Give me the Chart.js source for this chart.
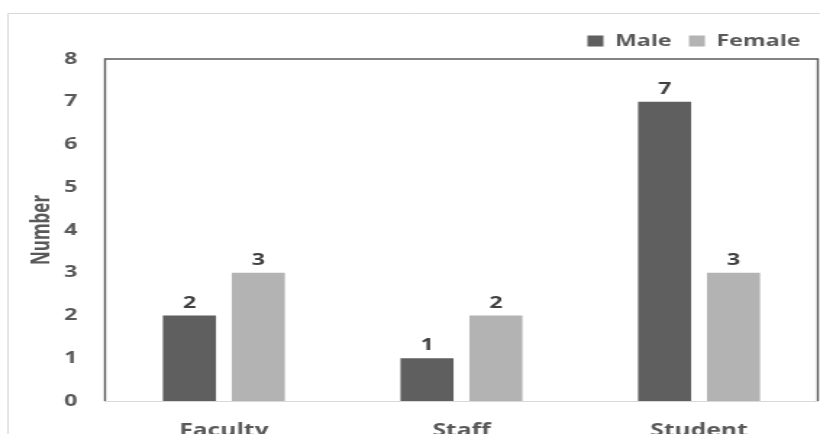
<!DOCTYPE html>
<html>
<head>
<meta charset="utf-8">
<script src="https://cdn.jsdelivr.net/npm/chart.js@4/dist/chart.umd.min.js"></script>
<style>
  html, body { margin: 0; padding: 0; background: #ffffff; overflow: hidden; }
  /* the figure is laid out on a narrower canvas and widened to 820px */
  #wrap { width: 566px; height: 434px; transform: scaleX(1.4488); transform-origin: 0 0; }
</style>
</head>
<body>
<div id="wrap"><canvas id="c" width="566" height="434"></canvas></div>
<script>
// Head count by role and gender
const categories = ['Faculty', 'Staff', 'Student'];
const maleCounts = [2, 1, 7];
const femaleCounts = [3, 2, 3];
const yTicks = [0, 1, 2, 3, 4, 5, 6, 7, 8];
const yTitle = 'Number';

const TEXT = '#595959';
const LABEL = '#404040';
const FONT = '"Open Sans", "DejaVu Sans", sans-serif';

// Light outer frame around the figure, dark plot box and the axis title
const framePlugin = {
  id: 'frame',
  beforeDraw(chart) {
    const ctx = chart.ctx;
    ctx.save();
    ctx.fillStyle = '#ffffff';
    ctx.fillRect(0, 0, chart.width, chart.height);
    ctx.strokeStyle = '#d9d9d9';
    ctx.lineWidth = 1;
    ctx.beginPath();
    ctx.moveTo(5.5, chart.height);
    ctx.lineTo(5.5, 13.5);
    ctx.lineTo(chart.width, 13.5);
    ctx.stroke();

    const a = chart.chartArea;
    ctx.translate(29, (a.top + a.bottom) / 2);
    ctx.rotate(-Math.PI / 2);
    ctx.font = 'bold 17px ' + FONT;
    ctx.fillStyle = TEXT;
    ctx.textAlign = 'center';
    ctx.textBaseline = 'middle';
    ctx.fillText(yTitle, 0, 0);
    ctx.restore();
  },
  afterDatasetsDraw(chart) {
    const a = chart.chartArea;
    const ctx = chart.ctx;
    ctx.save();
    ctx.strokeStyle = '#595959';
    ctx.lineWidth = 1.4;
    ctx.beginPath();
    ctx.moveTo(a.left, a.bottom);
    ctx.lineTo(a.left, a.top);
    ctx.lineTo(a.right, a.top);
    ctx.lineTo(a.right, a.bottom);
    ctx.stroke();
    ctx.restore();
  }
};

// Value printed above each bar
const valueLabels = {
  id: 'valueLabels',
  afterDatasetsDraw(chart) {
    const ctx = chart.ctx;
    ctx.save();
    ctx.font = 'bold 16px ' + FONT;
    ctx.fillStyle = LABEL;
    ctx.textAlign = 'center';
    ctx.textBaseline = 'alphabetic';
    chart.data.datasets.forEach((ds, i) => {
      chart.getDatasetMeta(i).data.forEach((bar, j) => {
        ctx.fillText(String(ds.data[j]), bar.x, bar.y - 8);
      });
    });
    ctx.restore();
  }
};

new Chart(document.getElementById('c'), {
  type: 'bar',
  data: {
    labels: categories,
    datasets: [
      { label: 'Male', data: maleCounts, backgroundColor: '#5f5f5f', borderWidth: 0 },
      { label: 'Female', data: femaleCounts, backgroundColor: '#b3b3b3', borderWidth: 0 }
    ]
  },
  options: {
    responsive: false,
    animation: false,
    devicePixelRatio: 1,
    datasets: { bar: { categoryPercentage: 0.58, barPercentage: 0.77 } },
    layout: { padding: { top: 21, right: 1.5, left: 0, bottom: 0 } },
    plugins: {
      legend: {
        position: 'top',
        align: 'end',
        labels: {
          color: TEXT,
          font: { family: FONT, size: 16, weight: 'bold' },
          boxWidth: 11,
          boxHeight: 11,
          padding: 12
        }
      },
      tooltip: { enabled: false }
    },
    scales: {
      x: {
        grid: { display: false, drawTicks: false },
        border: { display: true, color: '#d9d9d9', width: 1 },
        ticks: {
          color: TEXT,
          font: { family: FONT, size: 17, weight: 'bold' },
          padding: 20
        },
        afterFit(s) { s.height = 33; }
      },
      y: {
        min: 0,
        max: 8,
        afterBuildTicks(s) { s.ticks = yTicks.map(v => ({ value: v })); },
        grid: { display: false, drawTicks: false },
        border: { display: false },
        ticks: {
          color: TEXT,
          font: { family: FONT, size: 16, weight: 'bold' },
          padding: 19
        },
        afterFit(s) { s.width = 72.5; }
      }
    }
  },
  plugins: [framePlugin, valueLabels]
});
</script>
</body>
</html>
